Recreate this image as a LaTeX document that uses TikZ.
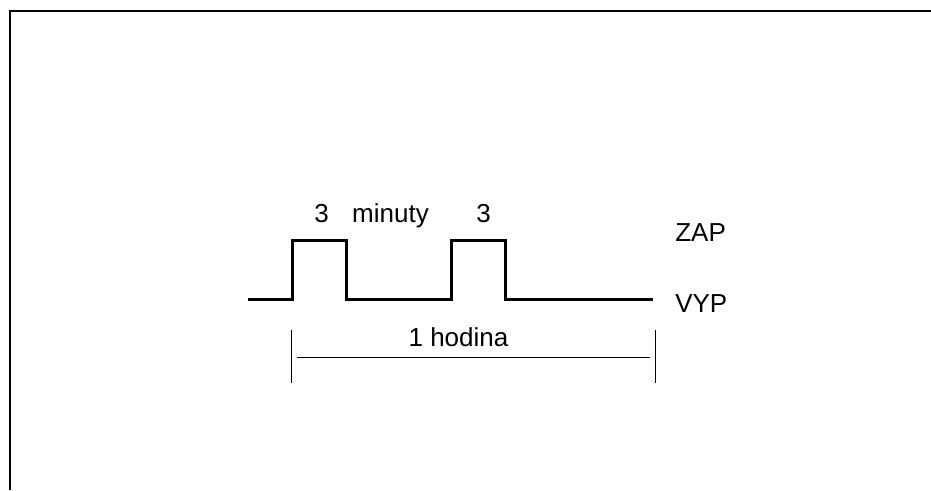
\documentclass[tikz,border=0pt]{standalone}
\usepackage{fontspec}
\setmainfont{Liberation Sans}
\usetikzlibrary{positioning}

\begin{document}
\begin{tikzpicture}[x=0.75pt, y=0.75pt, line join=miter,
  wave/.style={line width=2.25pt},
  thin line/.style={line width=0.75pt},
  lbl/.style={anchor=base, inner sep=0pt, font=\fontsize{19.5}{23}\selectfont}]

\useasboundingbox (0,0) rectangle (931,490);
\draw[line width=1.5pt] (10,0) -- (10,479) -- (931,479);

% pulse train
\draw[wave] (248,191) -- (292,191) -- (292,250) -- (346,250) -- (346,191)
  -- (451,191) -- (451,250) -- (505,250) -- (505,191) -- (653,191);
\node[lbl] (t1) at (321.5,267.3) {3};
\node[lbl] (min) at (390.5,267.3) {minuty};
\node[lbl] (t2) at (483.5,267.3) {3};
\node[lbl, anchor=base west] (zap) at (675,249) {ZAP};
\node[lbl, anchor=base west] (vyp) at (675,178) {VYP};

% one hour span
\coordinate (s0) at (291,133);
\coordinate (s1) at (655,133);
\draw[thin line] ([yshift=20.25pt]s0) -- ([yshift=-19.5pt]s0);
\draw[thin line] ([yshift=20.25pt]s1) -- ([yshift=-19.5pt]s1);
\draw[thin line] ([xshift=4.5pt]s0) -- ([xshift=-3.75pt]s1);
\node[lbl] (hour) at (458.5,144) {1 hodina};

\end{tikzpicture}
\end{document}
